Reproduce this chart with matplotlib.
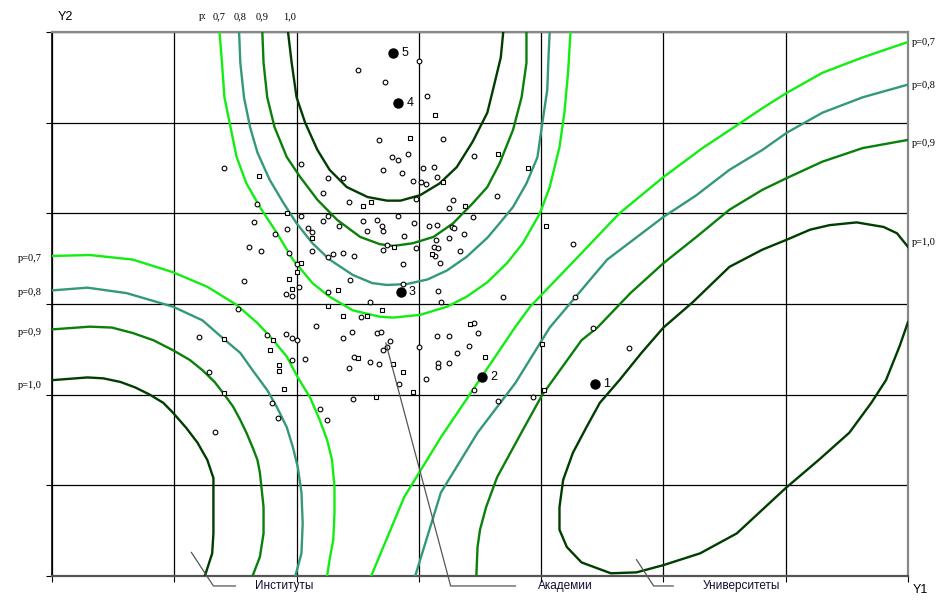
import numpy as np
import matplotlib
matplotlib.use('Agg')
import matplotlib.pyplot as plt

# ---- level lines (grid units: 7 x 6 cells) ----
# upper "U" group
u07_x = [1.37, 1.39, 1.41, 1.46, 1.51, 1.59, 1.70, 1.84, 1.97, 2.13, 2.27, 2.46, 2.68, 2.79,
         3.01, 3.23, 3.39, 3.56, 3.72, 3.85, 3.99, 4.07, 4.15, 4.19, 4.22, 4.24]
u07_y = [6.0, 5.66, 5.28, 4.95, 4.62, 4.33, 4.07, 3.78, 3.49, 3.23, 3.08, 2.93, 2.86, 2.85,
         2.88, 2.97, 3.08, 3.24, 3.45, 3.67, 4.00, 4.29, 4.73, 5.11, 5.55, 6.0]
u08_x = [1.53, 1.54, 1.57, 1.62, 1.68, 1.78, 1.89, 2.00, 2.13, 2.27, 2.46, 2.62, 2.74, 2.90,
         3.07, 3.23, 3.39, 3.56, 3.66, 3.77, 3.88, 3.97, 4.01, 4.05, 4.06, 4.07]
u08_y = [6.0, 5.66, 5.28, 4.95, 4.67, 4.37, 4.12, 3.89, 3.67, 3.49, 3.32, 3.23, 3.21, 3.22,
         3.27, 3.37, 3.52, 3.73, 3.89, 4.07, 4.33, 4.62, 5.0, 5.36, 5.72, 6.0]
u09_x = [1.72, 1.73, 1.76, 1.82, 1.92, 2.03, 2.17, 2.33, 2.52, 2.68, 2.79, 2.95, 3.12, 3.28,
         3.44, 3.56, 3.66, 3.77, 3.84, 3.88, 3.88]
u09_y = [6.0, 5.66, 5.28, 4.95, 4.62, 4.40, 4.15, 3.93, 3.74, 3.66, 3.64, 3.67, 3.74, 3.89,
         4.11, 4.29, 4.55, 4.92, 5.28, 5.66, 6.0]
u10_x = [1.93, 1.96, 2.00, 2.07, 2.17, 2.27, 2.41, 2.58, 2.74, 2.85, 3.01, 3.17, 3.31, 3.44,
         3.56, 3.62, 3.67, 3.69]
u10_y = [6.0, 5.66, 5.28, 5.0, 4.70, 4.48, 4.29, 4.18, 4.14, 4.14, 4.20, 4.33, 4.51, 4.79,
         5.11, 5.44, 5.72, 6.0]

# lower-left group
l07_x = [0.0, 0.31, 0.66, 0.99, 1.27, 1.51, 1.68, 1.81, 1.92, 2.01, 2.11, 2.19, 2.25, 2.29,
         2.31, 2.31, 2.30, 2.27, 2.25]
l07_y = [3.53, 3.54, 3.49, 3.35, 3.19, 2.99, 2.79, 2.60, 2.42, 2.19, 1.97, 1.72, 1.50, 1.28,
         0.98, 0.69, 0.40, 0.18, 0.0]
l08_x = [0.0, 0.29, 0.61, 0.99, 1.23, 1.40, 1.54, 1.64, 1.76, 1.84, 1.92, 1.97, 2.01, 2.04,
         2.05, 2.04, 1.99]
l08_y = [3.15, 3.18, 3.12, 2.97, 2.82, 2.62, 2.46, 2.27, 2.05, 1.86, 1.64, 1.42, 1.20, 0.92,
         0.58, 0.25, 0.0]
l09_x = [0.0, 0.31, 0.49, 0.66, 0.83, 0.99, 1.13, 1.23, 1.33, 1.41, 1.48, 1.54, 1.59, 1.64,
         1.68, 1.70, 1.73, 1.73, 1.70, 1.64]
l09_y = [2.72, 2.75, 2.74, 2.68, 2.60, 2.49, 2.38, 2.27, 2.14, 2.0, 1.87, 1.72, 1.58, 1.42,
         1.28, 1.14, 0.76, 0.47, 0.21, 0.0]
l10_x = [0.0, 0.29, 0.42, 0.56, 0.68, 0.80, 0.91, 0.99, 1.10, 1.19, 1.27, 1.32, 1.32, 1.32,
         1.31, 1.25]
l10_y = [2.16, 2.19, 2.18, 2.14, 2.08, 2.0, 1.91, 1.80, 1.63, 1.47, 1.28, 1.08, 0.76, 0.47,
         0.25, 0.0]

# diagonal group + ellipse
d07_x = [2.61, 2.88, 3.18, 3.48, 3.79, 3.91, 4.28, 4.64, 5.00, 5.32, 5.60, 5.81, 6.01, 6.30,
         6.63, 7.0]
d07_y = [0.0, 0.87, 1.53, 2.13, 2.75, 2.97, 3.49, 4.0, 4.40, 4.72, 4.97, 5.16, 5.33, 5.55,
         5.72, 5.89]
d08_x = [2.97, 3.18, 3.48, 3.79, 4.07, 4.54, 5.00, 5.27, 5.54, 5.81, 6.01, 6.30, 6.63, 7.0]
d08_y = [0.0, 0.92, 1.58, 2.13, 2.74, 3.49, 3.96, 4.20, 4.48, 4.70, 4.89, 5.11, 5.28, 5.42]
d09_x = [3.47, 3.48, 3.50, 3.55, 3.64, 3.85, 4.01, 4.33, 4.46, 4.73, 5.00, 5.27, 5.54, 5.81,
         6.01, 6.30, 6.63, 7.0]
d09_y = [0.0, 0.32, 0.51, 0.76, 1.09, 1.61, 2.0, 2.60, 2.74, 3.12, 3.45, 3.74, 4.04, 4.26,
         4.39, 4.57, 4.72, 4.81]
e10_x = [7.0, 6.91, 6.80, 6.58, 6.36, 6.20, 6.01, 5.81, 5.54, 5.24, 5.00, 4.82, 4.64, 4.48,
         4.37, 4.26, 4.18, 4.15, 4.15, 4.21, 4.33, 4.57, 4.78, 5.00, 5.30, 5.60, 6.00, 6.27,
         6.52, 6.70, 6.82, 6.93, 7.0]
e10_y = [3.63, 3.78, 3.85, 3.90, 3.87, 3.82, 3.71, 3.60, 3.41, 3.02, 2.74, 2.46, 2.16, 1.91,
         1.64, 1.36, 1.06, 0.76, 0.51, 0.32, 0.15, 0.03, 0.04, 0.12, 0.25, 0.47, 0.97, 1.28,
         1.58, 1.91, 2.16, 2.53, 2.80]

# ---- observations ----
circ_x = [3.00, 2.50, 2.72, 3.07, 2.67, 3.20, 2.78, 2.83, 2.91, 3.45, 1.41, 2.04, 2.71, 2.86,
          3.03, 3.12, 2.26, 2.38, 2.95, 3.02, 3.06, 3.15, 2.22, 2.43, 2.98, 3.28, 3.64, 1.68,
          3.25, 2.04, 2.22, 2.26, 2.35, 2.54, 2.66, 2.70, 2.83, 2.96, 3.08, 3.15, 3.27, 3.29,
          3.44, 1.65, 1.92, 1.82, 2.09, 2.13, 2.58, 2.71, 2.88, 3.14, 3.25, 3.37, 1.61, 1.71,
          1.94, 2.13, 2.26, 2.30, 2.38, 2.47, 2.71, 2.74, 2.98, 3.12, 3.16, 3.13, 3.34, 2.87,
          3.17, 2.00, 1.57, 1.91, 1.96, 2.02, 2.26, 2.44, 2.87, 3.16, 3.69, 4.26, 3.18, 2.60,
          1.52, 2.16, 3.45, 4.42, 4.28, 2.38, 2.45, 2.66, 2.69, 2.76, 2.74, 2.71, 3.00, 3.15,
          3.25, 3.31, 3.16, 3.16, 3.25, 3.06, 2.47, 2.60, 2.67, 2.43, 2.84, 2.46, 2.19, 2.53,
          1.20, 1.76, 1.91, 1.96, 2.00, 1.96, 2.07, 1.28, 1.80, 1.85, 1.33, 2.25, 3.48, 3.41,
          3.45, 3.65, 3.93, 4.72]
circ_y = [5.68, 5.58, 5.45, 5.29, 4.81, 4.82, 4.62, 4.59, 4.65, 4.63, 4.50, 4.54, 4.48, 4.44,
          4.50, 4.51, 4.39, 4.39, 4.36, 4.35, 4.32, 4.40, 4.22, 4.12, 4.16, 4.15, 4.19, 4.10,
          4.06, 3.97, 3.92, 3.97, 3.86, 3.92, 3.93, 3.86, 3.97, 3.89, 3.86, 3.87, 3.85, 3.84,
          3.96, 3.90, 3.83, 3.77, 3.84, 3.79, 3.81, 3.81, 3.75, 3.71, 3.73, 3.77, 3.63, 3.58,
          3.56, 3.58, 3.52, 3.55, 3.56, 3.53, 3.60, 3.65, 3.62, 3.63, 3.62, 3.53, 3.58, 3.44,
          3.45, 3.44, 3.25, 3.11, 3.09, 3.19, 3.13, 3.26, 3.22, 3.14, 3.08, 3.66, 3.02, 3.02,
          2.94, 2.76, 2.79, 2.74, 3.08, 2.62, 2.69, 2.68, 2.69, 2.59, 2.53, 2.49, 2.53, 2.65,
          2.65, 2.46, 2.35, 2.31, 2.35, 2.17, 2.42, 2.36, 2.34, 2.29, 2.12, 1.95, 1.84, 2.86,
          2.64, 2.66, 2.67, 2.62, 2.60, 2.38, 2.39, 2.25, 1.91, 1.74, 1.59, 1.72, 2.68, 2.54,
          2.05, 1.93, 1.97, 2.51]
sq_x = [3.13, 2.93, 3.65, 3.89, 1.69, 3.20, 2.54, 2.61, 3.38, 4.04, 2.13, 2.80, 3.11, 2.04,
        2.00, 1.94, 1.96, 2.34, 2.26, 2.38, 2.58, 2.70, 3.42, 1.92, 2.50, 2.79, 2.87, 2.95,
        2.65, 1.41, 1.81, 1.78, 1.86, 1.86, 1.41, 1.90, 3.54, 4.01, 4.02]
sq_y = [5.08, 4.83, 4.65, 4.50, 4.41, 4.35, 4.08, 4.12, 4.08, 3.86, 3.73, 3.63, 3.55, 3.45,
        3.35, 3.28, 3.17, 3.15, 2.98, 2.87, 2.87, 2.93, 2.78, 4.00, 2.40, 2.34, 2.25, 2.03,
        1.97, 2.61, 2.60, 2.49, 2.33, 2.26, 2.02, 2.06, 2.42, 2.56, 2.05]

# highlighted objects 1..5
num_x = [4.44, 3.52, 2.85, 2.83, 2.79]
num_y = [2.12, 2.19, 3.13, 5.22, 5.77]
num_lbl = ['1', '2', '3', '4', '5']

levels = ['0,7', '0,8', '0,9', '1,0']
colors = ['#11ee11', '#339977', '#0a800a', '#003d00']

groups = ['Институты', 'Академии', 'Университеты']
# leader lines: start point on the chart -> elbow -> end
lead_x = [[1.14, 1.32, 1.50], [2.73, 3.26, 3.79], [4.78, 4.92, 5.08]]
lead_y = [[0.26, -0.11, -0.11], [2.57, -0.11, -0.11], [0.18, -0.11, -0.11]]
label_x = [1.66, 3.97, 5.32]

fig = plt.figure(figsize=(9.5, 6.02), dpi=100)
ax = fig.add_axes([52/950, 26/602, 856/950, 544/602])
ax.set_xlim(0, 7)
ax.set_ylim(0, 6)

ax.set_xticks(range(8))
ax.set_yticks(range(7))
ax.set_xticklabels([])
ax.set_yticklabels([])
ax.tick_params(direction='out', length=4, width=0.8, color='black')
ax.grid(True, color='black', linewidth=0.9)
ax.set_axisbelow(True)
for s in ['top', 'right']:
    ax.spines[s].set_color('#888888')
    ax.spines[s].set_linewidth(1.6)
ax.spines['left'].set_color('black')
ax.spines['bottom'].set_color('#555555')
ax.spines['left'].set_linewidth(1.2)
ax.spines['bottom'].set_linewidth(1.6)

curves = [
    [(u07_x, u07_y), (l07_x, l07_y), (d07_x, d07_y)],
    [(u08_x, u08_y), (l08_x, l08_y), (d08_x, d08_y)],
    [(u09_x, u09_y), (l09_x, l09_y), (d09_x, d09_y)],
    [(u10_x, u10_y), (l10_x, l10_y), (e10_x, e10_y)],
]
for lvl, col in zip(curves, colors):
    for cx, cy in lvl:
        ax.plot(cx, cy, color=col, linewidth=1.7, solid_joinstyle='round', zorder=3)

ax.plot(circ_x, circ_y, 'o', ms=3.4, mfc='white', mec='black', mew=0.8, zorder=4)
ax.plot(sq_x, sq_y, 's', ms=2.9, mfc='white', mec='black', mew=0.8, zorder=4)

ax.plot(num_x, num_y, 'o', ms=6.5, color='black', zorder=5)
for x, y, t in zip(num_x, num_y, num_lbl):
    ax.annotate(t, (x, y), xytext=(6, 0), textcoords='offset points',
                va='center', ha='left', fontsize=9, family='Liberation Sans', zorder=6)

for lx, ly in zip(lead_x, lead_y):
    ax.plot(lx, ly, color='#555555', linewidth=0.9, clip_on=False, zorder=5)
for g, x in zip(groups, label_x):
    ax.text(x, -0.11, g, ha='left', va='center', fontsize=8.5,
            family='Liberation Sans', color='#101030')

# level labels
right_y = [5.88, 5.41, 4.77, 3.68]
left_y = [3.50, 3.13, 2.69, 2.10]
top_x = [1.37, 1.54, 1.72, 1.94]
for lv, ry, ly, tx in zip(levels, right_y, left_y, top_x):
    ax.text(7.03, ry, 'p=' + lv, ha='left', va='center', fontsize=7.5,
            family='Liberation Serif', clip_on=False)
    ax.text(-0.08, ly, 'p=' + lv, ha='right', va='center', fontsize=7.5,
            family='Liberation Serif', clip_on=False)
    ax.text(tx, 6.17, lv, ha='center', va='center', fontsize=7.5,
            family='Liberation Serif', clip_on=False)
ax.text(1.23, 6.17, 'p:', ha='center', va='center', fontsize=7.5,
        family='Liberation Serif', clip_on=False)

ax.text(0.11, 6.17, 'Y2', ha='center', va='center', fontsize=9, family='Liberation Sans')
ax.text(7.10, -0.15, 'Y1', ha='center', va='center', fontsize=9, family='Liberation Sans')

fig.savefig('out.png', dpi=100)
